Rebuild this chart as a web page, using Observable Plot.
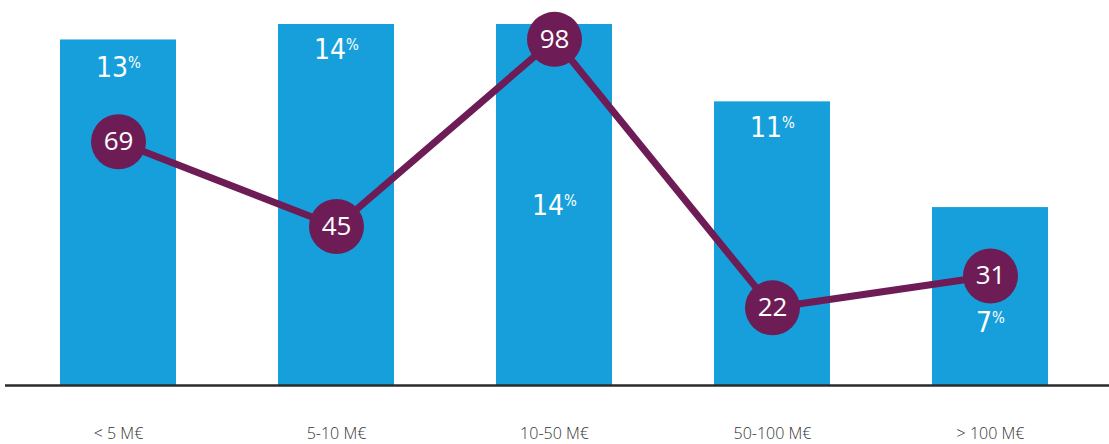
<!DOCTYPE html>
<html>
<head>
<meta charset="utf-8">
<script src="https://cdn.jsdelivr.net/npm/d3@7"></script>
<script src="https://cdn.jsdelivr.net/npm/@observablehq/plot@0.6"></script>
<style>
  html, body { margin: 0; padding: 0; background: #fff; }
  #chart svg { display: block; }
  g.pct text { font-stretch: condensed; }
</style>
</head>
<body>
<div id="chart"></div>
<script>
// Categories (company size)
const categories = ["< 5 M€", "5-10 M€", "10-50 M€", "50-100 M€", "> 100 M€"];
// Bar series: share (%)
const shares = [13.4, 14, 14, 11, 6.9];
const shareLabels = ["13", "14", "14", "11", "7"];
// Line series: count
const counts = [69, 45, 98, 22, 31];
// Where each % label sits inside its bar (in % units)
const labelAt = [12.4, 13.1, 7.05, 10.05, 2.5];

const barColor = "#179fdb";
const lineColor = "#6e1c56";

// secondary scale: counts mapped onto the % axis
const countToShare = d3.scaleLinear([0, 100], [0, 13.7]);

const bars = categories.map((c, i) => ({cat: c, share: shares[i], label: shareLabels[i], at: labelAt[i]}));
const pts = categories.map((c, i) => ({cat: c, count: counts[i], y: countToShare(counts[i])}));

const plot = Plot.plot({
  width: 1109,
  height: 444,
  marginLeft: 5,
  marginRight: 0,
  marginTop: 0,
  marginBottom: 59,
  x: {domain: categories, range: [5.5, 1102.5], paddingInner: 0.468, paddingOuter: 0.25, label: null},
  y: {domain: [0, 14], range: [385, 24], axis: null},
  style: {background: "#fff"},
  marks: [
    Plot.barY(bars, {x: "cat", y: "share", fill: barColor}),
    Plot.ruleY([0], {stroke: "#2b2b2b", strokeWidth: 2.5}),
    Plot.text(bars, {x: "cat", y: "at", text: "label", fill: "#fff", fontSize: 28,
      fontFamily: "'DejaVu Sans Condensed', 'DejaVu Sans', sans-serif", className: "pct", dy: 2}),
    Plot.line(pts, {x: "cat", y: "y", stroke: lineColor, strokeWidth: 7}),
    Plot.dot(pts, {x: "cat", y: "y", r: 27.5, fill: lineColor}),
    Plot.text(pts, {x: "cat", y: "y", text: d => String(d.count), fill: "#fff", fontSize: 26,
      fontFamily: "'Open Sans', sans-serif"}),
    Plot.axisX({tickSize: 0, tickPadding: 42, fontSize: 16, fontWeight: 300, color: "#333",
      fontFamily: "'Open Sans', sans-serif", label: null})
  ]
});

document.getElementById("chart").appendChild(plot);

// superscript percent sign on bar labels
d3.select(plot).selectAll("g.pct text").each(function () {
  const t = d3.select(this);
  const v = t.text();
  t.text(v);
  t.append("tspan").attr("font-size", 15).attr("dy", "-0.6em").text("%");
});
</script>
</body>
</html>
